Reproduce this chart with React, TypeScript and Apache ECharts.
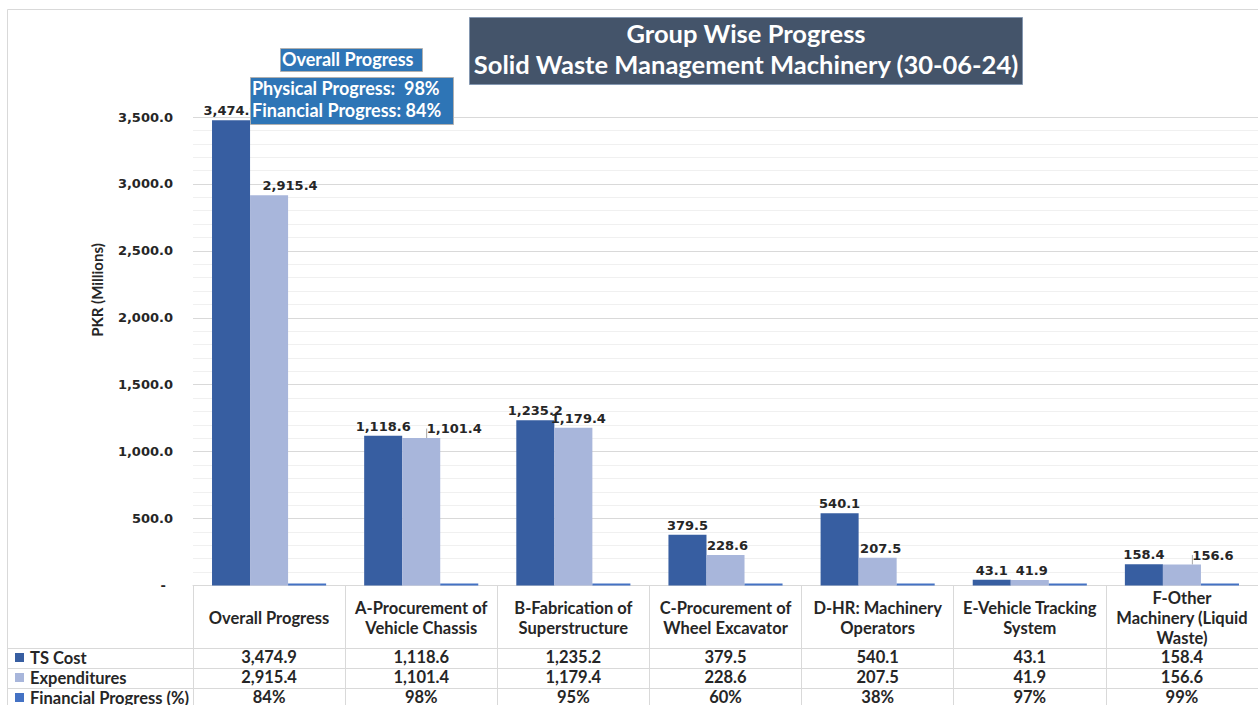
import React, { useEffect, useRef } from "react";
import * as echarts from "echarts";

const categories = [
  "Overall Progress",
  "A-Procurement of\nVehicle Chassis",
  "B-Fabrication of\nSuperstructure",
  "C-Procurement of\nWheel Excavator",
  "D-HR: Machinery\nOperators",
  "E-Vehicle Tracking\nSystem",
  "F-Other\nMachinery (Liquid\nWaste)",
];
const tsCost = [3474.9, 1118.6, 1235.2, 379.5, 540.1, 43.1, 158.4];
const expenditures = [2915.4, 1101.4, 1179.4, 228.6, 207.5, 41.9, 156.6];
const financialProgress = [0.84, 0.98, 0.95, 0.6, 0.38, 0.97, 0.99];
const seriesNames = ["TS Cost", "Expenditures", "Financial Progress (%)"];
const titleLines = ["Group Wise Progress", "Solid Waste Management Machinery (30-06-24)"];
const yAxisName = "PKR (Millions)";
const overallTitle = "Overall Progress";
const overallLines = ["Physical Progress:  98%", "Financial Progress: 84%"];

// layout-only: horizontal nudges of Expenditures labels (px)
const expLabelDx = [21, 33, 5, 2, 3, 2, 31];
const expLeader = [false, true, false, false, false, false, true];

const fmt1 = (v: number) =>
  v.toLocaleString("en-US", { minimumFractionDigits: 1, maximumFractionDigits: 1 });
const fmtPct = (v: number) => Math.round(v * 100) + "%";

const C_TS = "#375EA1";
const C_EXP = "#A8B6DB";
const C_FP = "#4472C4";
const TXT = "#262626";
const TABLE_FONT = "Lato";
const NUM_FONT = "DejaVu Sans";
const TABLE_SIZE = 16.5;

const GRID_LEFT = 193;
const GRID_TOP = 117;
const GRID_W = 1069;
const GRID_H = 469;
const AXIS_Y = GRID_TOP + GRID_H;

export default function App() {
  const ref = useRef<HTMLDivElement>(null);
  useEffect(() => {
    if (!ref.current) return;
    const chart = echarts.init(ref.current, null, { renderer: "svg" });

    const tableAxis = (vals: string[], center: number) => ({
      type: "category",
      gridIndex: 0,
      position: "bottom",
      data: vals,
      axisLine: { show: false },
      axisTick: { show: false },
      splitLine: { show: false },
      axisLabel: {
        interval: 0,
        margin: center - AXIS_Y,
        verticalAlign: "middle",
        fontFamily: TABLE_FONT,
        fontWeight: "bold",
        fontSize: TABLE_SIZE,
        color: TXT,
      },
    });

    const rowLines = [648, 668, 688].map((y) => ({
      type: "line",
      z: 5,
      shape: { x1: 8, y1: y + 0.5, x2: 1262, y2: y + 0.5 },
      style: { stroke: "#d9d9d9", lineWidth: 1 },
    }));

    const legends = seriesNames.map((n, i) => ({
      orient: "horizontal",
      left: 15,
      top: 649 + i * 20,
      itemWidth: 9,
      itemHeight: 9,
      icon: "rect",
      padding: 0,
      selectedMode: false,
      data: [n],
      textStyle: {
        fontFamily: TABLE_FONT,
        fontWeight: "bold",
        fontSize: TABLE_SIZE,
        lineHeight: 16,
        color: TXT,
        padding: [0, 0, 0, 1],
      },
    }));

    const option: any = {
      animation: false,
      backgroundColor: "#ffffff",
      textStyle: { fontFamily: TABLE_FONT },
      grid: { left: GRID_LEFT, top: GRID_TOP, width: GRID_W, height: GRID_H, containLabel: false },
      legend: legends,
      xAxis: [
        {
          type: "category",
          data: categories,
          axisLine: { show: true, lineStyle: { color: "#d9d9d9" } },
          axisTick: {
            show: true,
            interval: 0,
            length: 130,
            lineStyle: { color: "#d9d9d9" },
          },
          axisLabel: {
            interval: 0,
            margin: 32,
            verticalAlign: "middle",
            lineHeight: 20,
            fontFamily: TABLE_FONT,
            fontWeight: "bold",
            fontSize: TABLE_SIZE,
            color: TXT,
          },
        },
        tableAxis(tsCost.map(fmt1), 657),
        tableAxis(expenditures.map(fmt1), 677),
        tableAxis(financialProgress.map(fmtPct), 697),
      ],
      yAxis: {
        type: "value",
        min: 0,
        max: 3500,
        interval: 500,
        axisLine: { show: false },
        axisTick: { show: false },
        minorTick: { show: false, splitNumber: 5 },
        minorSplitLine: { show: true, lineStyle: { color: "#f0f0f0" } },
        splitLine: { show: true, lineStyle: { color: "#d9d9d9" } },
        axisLabel: {
          margin: 20,
          fontFamily: NUM_FONT,
          fontWeight: "bold",
          fontSize: 13,
          color: TXT,
          formatter: (v: number) => (v === 0 ? "{d|-}" : fmt1(v)),
          rich: { d: { padding: [0, 7, 0, 0], fontFamily: NUM_FONT, fontWeight: "bold", fontSize: 13, color: TXT } },
        },
      },
      series: [
        {
          name: seriesNames[0],
          type: "bar",
          data: tsCost,
          barGap: "0%",
          barCategoryGap: "25%",
          itemStyle: { color: C_TS },
          label: {
            show: true,
            position: "top",
            distance: 3,
            formatter: (p: any) => fmt1(p.value),
            fontFamily: NUM_FONT,
            fontWeight: "bold",
            fontSize: 13,
            color: TXT,
          },
        },
        {
          name: seriesNames[1],
          type: "bar",
          data: expenditures.map((v, i) => ({
            value: v,
            labelLine: { show: expLeader[i] },
          })),
          barGap: "0%",
          barCategoryGap: "25%",
          itemStyle: { color: C_EXP },
          label: {
            show: true,
            position: "top",
            distance: 3,
            formatter: (p: any) => fmt1(p.value),
            fontFamily: NUM_FONT,
            fontWeight: "bold",
            fontSize: 13,
            color: TXT,
          },
          labelLine: { show: false, lineStyle: { color: "#a6a6a6", width: 1 } },
          labelLayout: (p: any) => ({ dx: expLabelDx[p.dataIndex] }),
        },
        {
          name: seriesNames[2],
          type: "bar",
          data: financialProgress,
          barGap: "0%",
          barCategoryGap: "25%",
          barMinHeight: 2,
          itemStyle: { color: C_FP },
        },
      ],
      graphic: [
        {
          type: "rect",
          z: 0,
          silent: true,
          shape: { x: 7.5, y: 9.5, width: 1280, height: 720 },
          style: { fill: "none", stroke: "#d9d9d9", lineWidth: 1 },
        },
        ...rowLines,
        {
          type: "text",
          z: 5,
          x: 97,
          y: 290,
          rotation: Math.PI / 2,
          style: {
            text: yAxisName,
            x: 0,
            y: 0,
            textAlign: "center",
            textVerticalAlign: "middle",
            font: "bold 15px Lato",
            fill: TXT,
          },
        },
        {
          type: "rect",
          z: 20,
          shape: { x: 469.5, y: 17.5, width: 553, height: 67 },
          style: { fill: "#44546A", stroke: "#8497B0", lineWidth: 1 },
        },
        {
          type: "text",
          z: 21,
          style: {
            text: titleLines[0],
            x: 746,
            y: 33,
            textAlign: "center",
            textVerticalAlign: "middle",
            font: "bold 25.5px Lato",
            fill: "#ffffff",
          },
        },
        {
          type: "text",
          z: 21,
          style: {
            text: titleLines[1],
            x: 746,
            y: 64,
            textAlign: "center",
            textVerticalAlign: "middle",
            font: "bold 25.5px Lato",
            fill: "#ffffff",
          },
        },
        {
          type: "rect",
          z: 20,
          shape: { x: 280.5, y: 48.5, width: 142, height: 23 },
          style: { fill: "#2E75B6", stroke: "#b0b0b0", lineWidth: 1 },
        },
        {
          type: "text",
          z: 21,
          style: {
            text: overallTitle,
            x: 282,
            y: 59,
            textAlign: "left",
            textVerticalAlign: "middle",
            font: "bold 18px Lato",
            fill: "#ffffff",
          },
        },
        {
          type: "rect",
          z: 20,
          shape: { x: 250.5, y: 77.5, width: 203, height: 47 },
          style: { fill: "#2E75B6", stroke: "#b0b0b0", lineWidth: 1 },
        },
        {
          type: "text",
          z: 21,
          style: {
            text: overallLines[0],
            x: 252,
            y: 88,
            textAlign: "left",
            textVerticalAlign: "middle",
            font: "bold 18px Lato",
            fill: "#ffffff",
          },
        },
        {
          type: "text",
          z: 21,
          style: {
            text: overallLines[1],
            x: 252,
            y: 110,
            textAlign: "left",
            textVerticalAlign: "middle",
            font: "bold 18px Lato",
            fill: "#ffffff",
          },
        },
      ],
    };

    chart.setOption(option);
    return () => chart.dispose();
  }, []);

  return (
    <div
      ref={ref}
      style={{ position: "fixed", left: 0, top: 0, width: 1258, height: 705, background: "#fff" }}
    />
  );
}
